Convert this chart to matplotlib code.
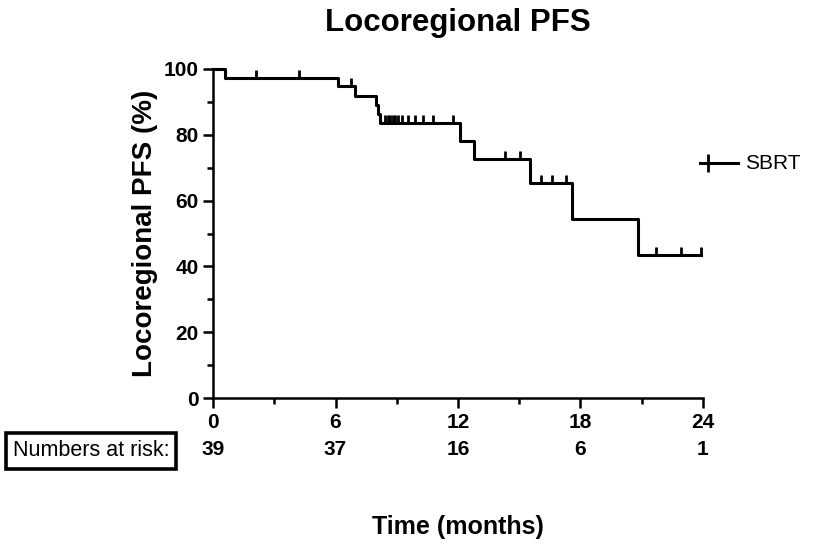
import numpy as np
import matplotlib
matplotlib.use('Agg')
import matplotlib.pyplot as plt
from matplotlib.lines import Line2D

plt.rcParams['font.family'] = ['Liberation Sans', 'DejaVu Sans']

# step times (months) and survival (%) after each event
event_times = [0.6, 6.1, 6.95, 8.0, 8.09, 8.17, 12.1, 12.78, 15.52, 17.57, 20.8]
surv_pct = [97.4, 94.7, 91.9, 89.2, 86.4, 83.6, 78.2, 72.6, 65.2, 54.3, 43.5]
# censored observations
censor_times = [2.1, 4.2, 6.76, 8.42, 8.57, 8.67, 8.81, 8.91, 9.06, 9.26, 9.55,
                9.89, 10.28, 10.77, 11.75, 14.3, 15.03, 16.05, 16.6, 17.3,
                21.7, 22.9, 23.9]
end_time = 23.9
# numbers at risk table
risk_times = [0, 6, 12, 18, 24]
risk_counts = [39, 37, 16, 6, 1]

fig = plt.figure(figsize=(8.35, 5.45), dpi=100)
ax = fig.add_axes([0.2551, 0.2697, 0.5868, 0.6037])

# step curve
xs = [0] + event_times + [end_time]
ys = [100] + surv_pct + [surv_pct[-1]]
ax.step(xs, ys, where='post', color='black', lw=2.2, clip_on=False, zorder=3)

# censor ticks sit on the curve
idx = np.searchsorted(event_times, censor_times, side='right')
censor_y = [100 if i == 0 else surv_pct[i - 1] for i in idx]
ax.plot(censor_times, censor_y, ls='none', marker=2, ms=6, mew=2,
        color='black', clip_on=False, zorder=3)

ax.set_xlim(0, 24)
ax.set_ylim(0, 100)
ax.set_xticks(risk_times)
ax.set_xticks([3, 9, 15, 21], minor=True)
ax.set_yticks(range(0, 101, 20))
ax.set_yticks(range(10, 100, 20), minor=True)
for s in ['top', 'right']:
    ax.spines[s].set_visible(False)
for s in ['left', 'bottom']:
    ax.spines[s].set_linewidth(1.8)
ax.tick_params(which='major', length=7.5, width=1.8, labelsize=15, pad=3)
ax.tick_params(which='minor', length=4, width=1.8)
for lab in ax.get_xticklabels() + ax.get_yticklabels():
    lab.set_fontweight('bold')

ax.set_title('Locoregional PFS', fontsize=22.5, fontweight='bold', pad=27)
ax.set_ylabel('Locoregional PFS (%)', fontsize=20, fontweight='bold', labelpad=4)
ax.set_xlabel('Time (months)', fontsize=18, fontweight='bold', labelpad=60)

# numbers at risk row
trans = matplotlib.transforms.blended_transform_factory(ax.transData, ax.transAxes)
for t, n in zip(risk_times, risk_counts):
    ax.text(t, -0.155, str(n), transform=trans, ha='center', va='center',
            fontsize=15, fontweight='bold')
fig.text(91 / 835, 1 - 451 / 545, 'Numbers at risk:', ha='center', va='center',
         fontsize=15.5,
         bbox=dict(boxstyle='square,pad=0.33', fc='white', ec='black', lw=2.6))

# legend: line with a censor tick near its left end
leg_y = 1 - 163 / 545
fig.add_artist(Line2D([700 / 835, 738 / 835], [leg_y, leg_y], color='black', lw=2.2))
fig.add_artist(Line2D([708 / 835], [leg_y], color='black', marker='|', ms=13, mew=2))
fig.text(745 / 835, leg_y, 'SBRT', ha='left', va='center', fontsize=15)

fig.savefig('out.png', dpi=100)
